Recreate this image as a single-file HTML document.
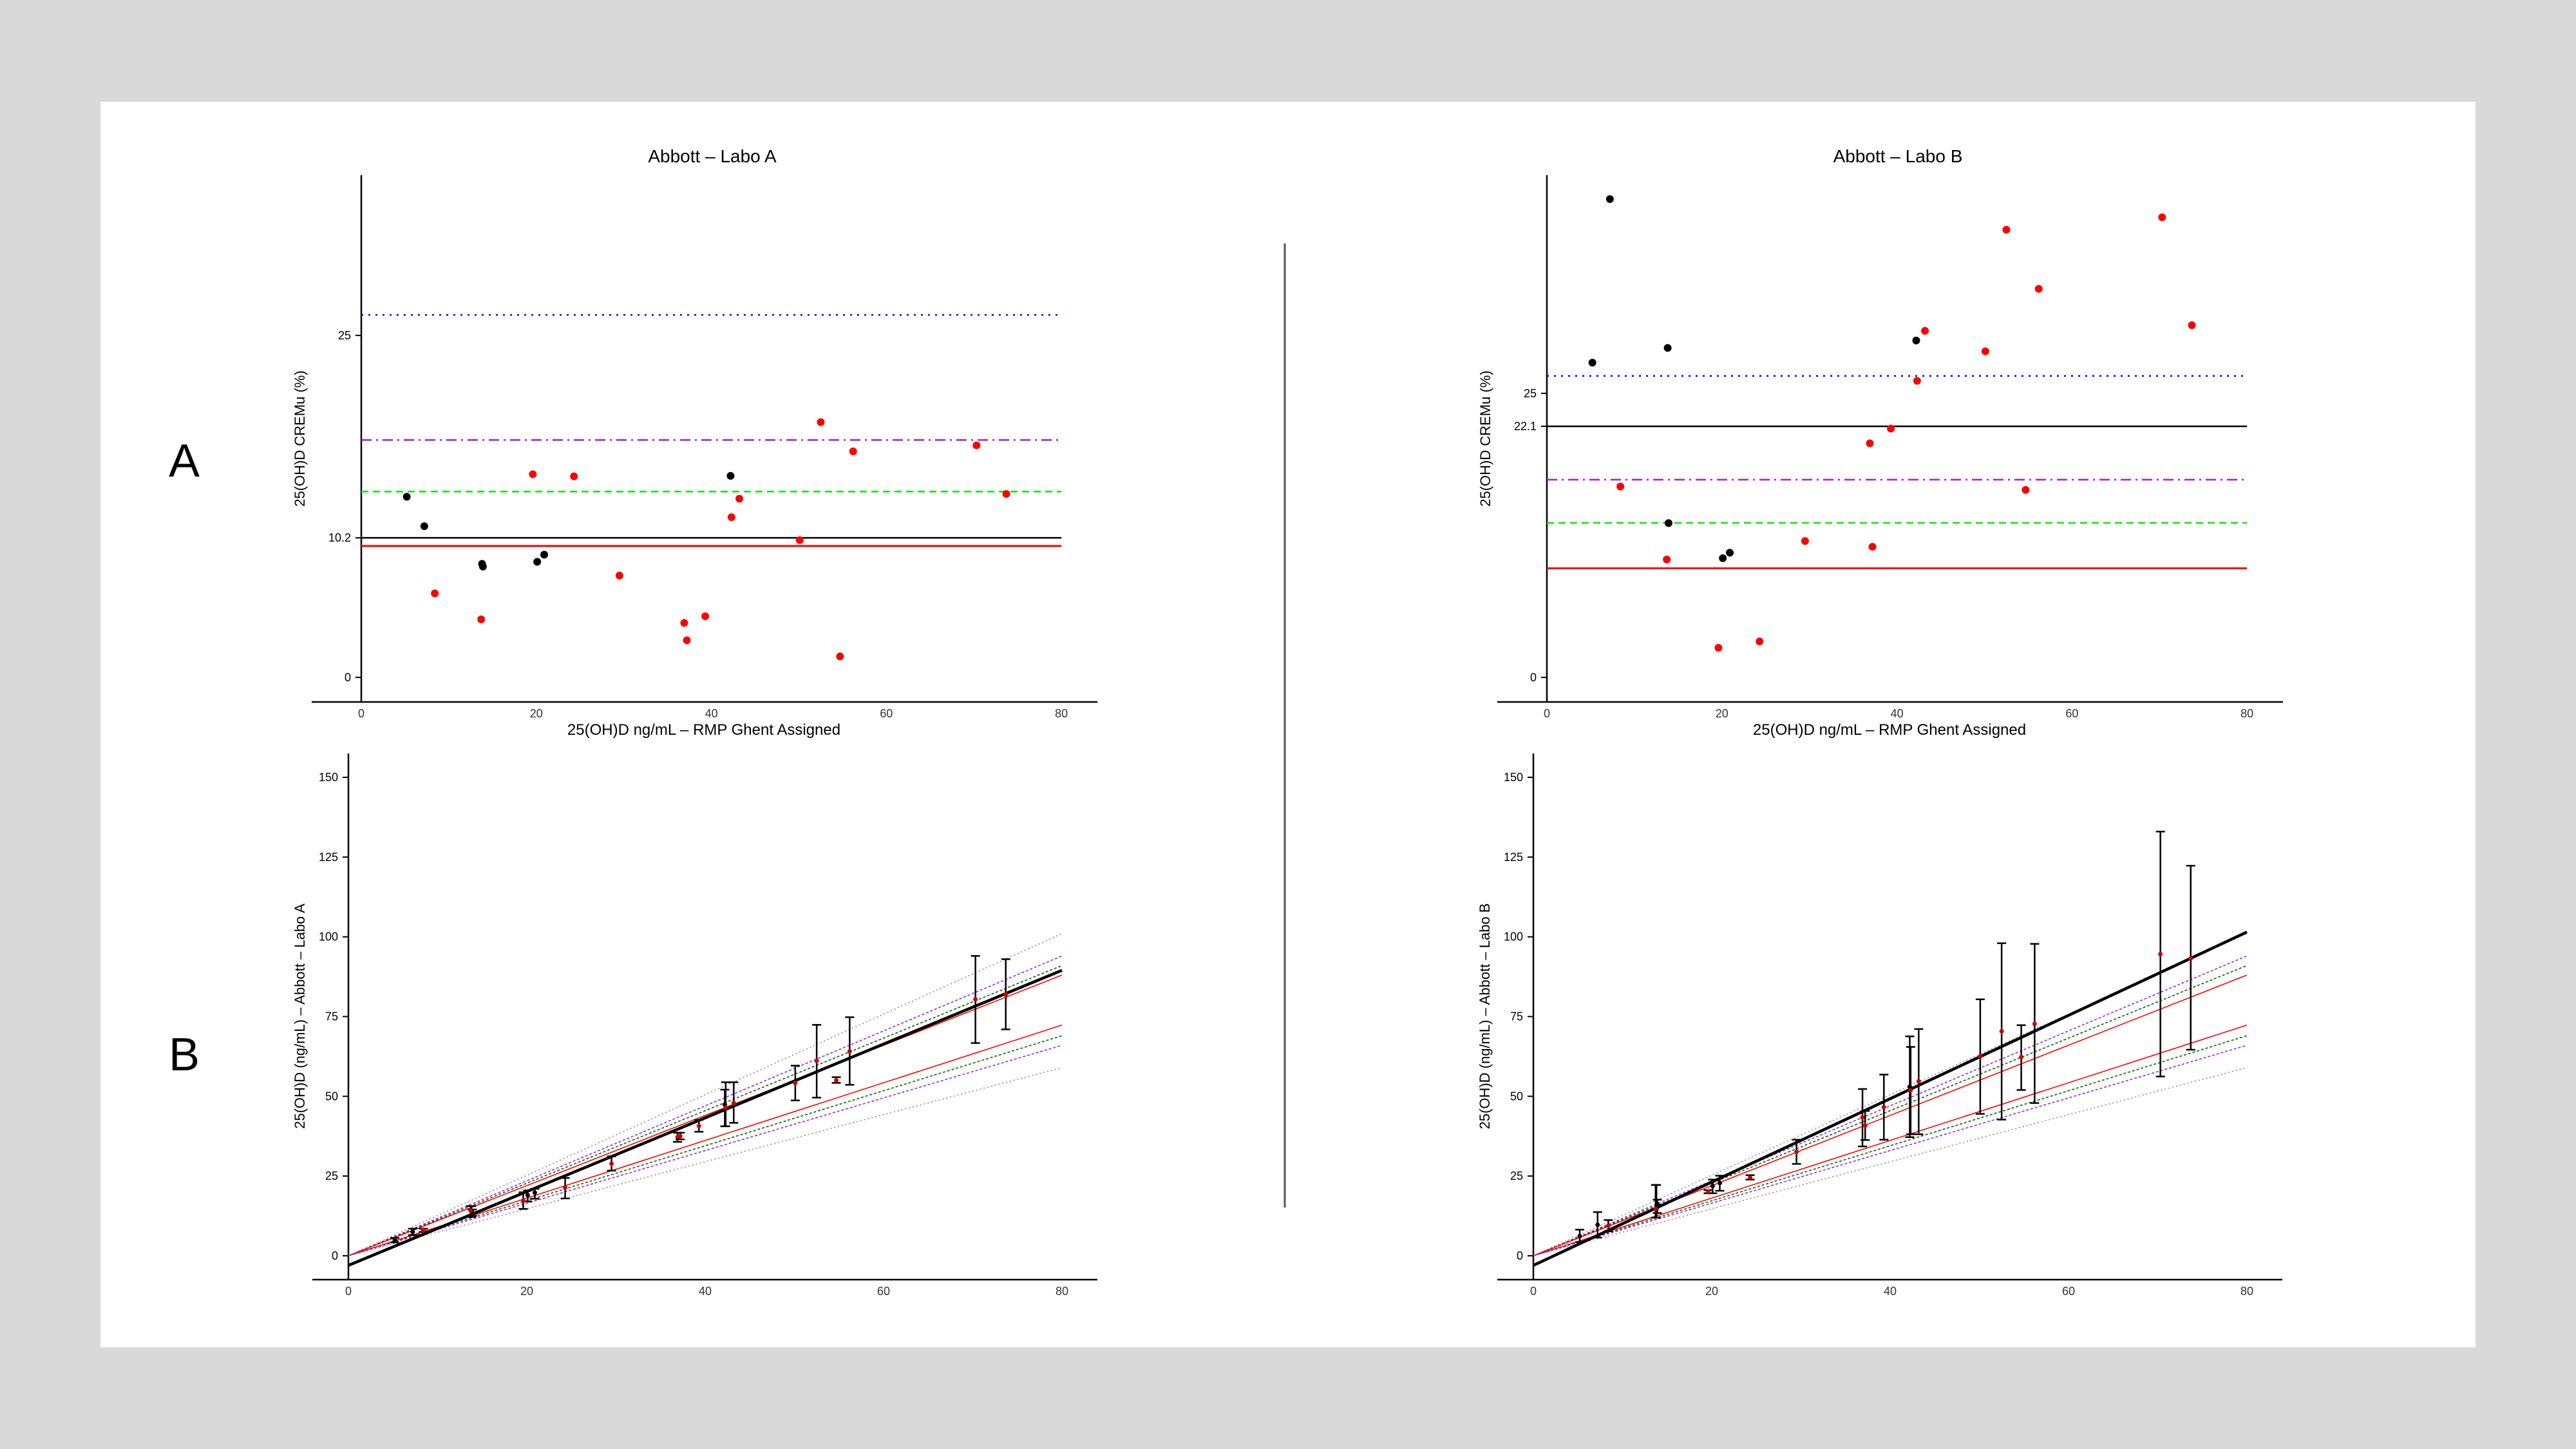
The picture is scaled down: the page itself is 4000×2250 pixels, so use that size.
<!DOCTYPE html>
<html><head><meta charset="utf-8"><style>
html,body{margin:0;padding:0;background:#d9d9d9;}
svg{display:block;}
text{font-family:"Liberation Sans",sans-serif;}
</style></head><body>
<svg id="s" width="4000" height="2250" xmlns="http://www.w3.org/2000/svg">
<rect x="156" y="158" width="3688" height="1934" fill="#fff"/>
<text x="286" y="740" font-size="72" text-anchor="middle">A</text>
<text x="286" y="1662" font-size="72" text-anchor="middle">B</text>
<line x1="1995" y1="378" x2="1995" y2="1875" stroke="#555" stroke-width="3"/>
</svg>
<script>
// ---- data ----
const xA=[5.2,7.2,13.8,13.9,20.1,20.9,42.2,8.4,13.7,19.6,24.3,29.5,36.9,37.2,39.3,42.3,43.2,50.1,52.5,54.7,56.2,70.3,73.7];
const isBlack=[1,1,1,1,1,1,1,0,0,0,0,0,0,0,0,0,0,0,0,0,0,0,0];
const cremuA=[13.2,11.05,8.3,8.1,8.45,8.97,14.73,6.14,4.24,14.85,14.7,7.44,3.98,2.71,4.47,11.71,13.06,10.03,18.66,1.53,16.52,16.96,13.41];
const cremuB=[27.7,42.1,29.0,13.58,10.49,10.97,29.65,16.8,10.38,2.6,3.16,12.0,20.6,11.5,21.9,26.1,30.5,28.7,39.4,16.5,34.2,40.5,31.0];
const hlineA=[26.5,17.35,13.58,10.2,9.6];
const hlineB=[26.53,17.4,13.6,22.1,9.6];
const hColors=['#0000ff','#9a1ff0','#00ee00','#000','#ff0000'];
const hDash=['3,8','16,7,3,7','11,7',null,null];
const yTicksA=[0,10.2,25];
const yTicksB=[0,22.1,25];
const xTicks=[0,20,40,60,80];
const meanA=[4.9,7.5,14.2,13.5,19,19.8,47.4,8,14.2,17.3,21.4,28.9,37.2,37.5,40.7,46.5,47.9,54.2,61.1,55,64.1,80.4,82];
const loA=[4.2,6.5,12.2,12.5,17,17.9,40.6,7.5,12.2,14.7,18,26.7,35.7,36.5,38.9,40.6,41.7,48.7,49.6,54.2,53.6,66.7,71];
const hiA=[5.6,8.5,15.6,14.5,20.5,21,52.1,8.5,15.6,19.9,24.4,31.2,38.6,38.6,42.6,54.4,54.4,59.6,72.4,56,74.8,94,93];
const meanB=[6.2,9.7,14.7,16.2,21.9,22.8,53,9.4,14.7,20.2,24.5,32.6,43.4,40.8,46.6,51.9,54.7,62.5,70.4,62.3,72.7,94.6,93.2];
const loB=[4.3,5.7,12,13.4,19.6,20.4,37.2,7.7,12,19.6,23.9,28.8,34.3,36.3,36.4,38.1,38.1,44.5,42.7,52,47.9,56.2,64.6];
const hiB=[8.2,13.7,22.2,17.6,23.9,25.1,68.8,11.2,22.2,20.6,25.3,36.4,52.3,45.4,56.8,65.5,71.1,80.4,98,72.3,97.8,133,122.3];
const bandSlopes=[1.2625,1.175,1.1375,1.1,0.904,0.8625,0.825,0.7375];
const bandColors=['#888','#9a1ff0','#006400','#ff0000','#ff0000','#006400','#9a1ff0','#888'];
const bandDash=['2,4','4,3','4,3',null,null,'4,3','4,3','2,4'];
const regA=[-3,89.5];
const regB=[-3,101.5];
const yTicksBottom=[0,25,50,75,100,125,150];

const svg=document.getElementById('s');
const NS='http://www.w3.org/2000/svg';
function mk(tag,at,parent){const e=document.createElementNS(NS,tag);for(const k in at)e.setAttribute(k,at[k]);(parent||svg).appendChild(e);return e;}
function txt(s,at,parent){const e=mk('text',at,parent);e.textContent=s;return e;}

function topPanel(ox,title,vals,hl,yt,ys,name){
  const X=v=>ox+v*13.59, Yf=v=>1051.8-v*ys;
  const g=mk('g',{});
  
  
  txt(title,{x:ox+545,y:252,'font-size':28,'text-anchor':'middle'},g);
  mk('line',{x1:ox,y1:272,x2:ox,y2:1090,stroke:'#000','stroke-width':2.5},g);
  mk('line',{x1:ox-77,y1:1090,x2:ox+1143,y2:1090,stroke:'#000','stroke-width':2.5},g);
  xTicks.forEach(t=>{const l=txt(String(t),{x:X(t),y:1114,'font-size':18,'text-anchor':'middle',fill:'#333'},g);});
  yt.forEach(t=>{mk('line',{x1:ox-9,y1:Yf(t),x2:ox,y2:Yf(t),stroke:'#000','stroke-width':2},g);const l=txt(String(t),{x:ox-16,y:Yf(t)+6,'font-size':18,'text-anchor':'end'},g);});
  txt('25(OH)D  ng/mL – RMP Ghent Assigned',{x:ox+532,y:1141,'font-size':24,'text-anchor':'middle'},g);
  const yl=txt('25(OH)D  CREMu (%)',{x:0,y:0,'font-size':22,'text-anchor':'middle',transform:`translate(${ox-88},681) rotate(-90)`},g);
  
  hl.forEach((v,i)=>{const a={x1:ox,y1:Yf(v),x2:X(80),y2:Yf(v),stroke:hColors[i],'stroke-width':i===4?3:2.5};if(hDash[i])a['stroke-dasharray']=hDash[i];const l=mk('line',a,g);});
  xA.forEach((x,i)=>{const c=mk('circle',{cx:X(x),cy:Yf(vals[i]),r:6,fill:isBlack[i]?'#000':'#f00'},g);});
}
function bottomPanel(ox,mean,lo,hi,reg,ylab,name){
  const X=v=>ox+v*13.85, Y=v=>1950-v*4.953;
  const g=mk('g',{});
  
  
  mk('line',{x1:ox,y1:1170,x2:ox,y2:1987,stroke:'#000','stroke-width':2.5},g);
  mk('line',{x1:ox-56,y1:1987,x2:ox+1163,y2:1987,stroke:'#000','stroke-width':2.5},g);
  xTicks.forEach(t=>{const l=txt(String(t),{x:X(t),y:2011,'font-size':18,'text-anchor':'middle',fill:'#333'},g);});
  yTicksBottom.forEach(t=>{mk('line',{x1:ox-9,y1:Y(t),x2:ox,y2:Y(t),stroke:'#000','stroke-width':2},g);const l=txt(String(t),{x:ox-16,y:Y(t)+6,'font-size':18,'text-anchor':'end'},g);});
  const yl=txt(ylab,{x:0,y:0,'font-size':22,'text-anchor':'middle',transform:`translate(${ox-68},1578) rotate(-90)`},g);
  
  bandSlopes.forEach((s,i)=>{const a={x1:X(0),y1:Y(0),x2:X(80),y2:Y(80*s),stroke:bandColors[i],'stroke-width':1.6};if(bandDash[i])a['stroke-dasharray']=bandDash[i];const l=mk('line',a,g);});
  const r=mk('line',{x1:X(0),y1:Y(reg[0]),x2:X(80),y2:Y(reg[1]),stroke:'#000','stroke-width':4.5},g);
  
  xA.forEach((x,i)=>{
    const px=X(x);
    const e=mk('path',{d:`M${px},${Y(lo[i])}V${Y(hi[i])}M${px-7},${Y(lo[i])}h14M${px-7},${Y(hi[i])}h14`,stroke:'#000','stroke-width':2.5,fill:'none'},g);
    
    const c=mk('circle',{cx:px,cy:Y(mean[i]),r:3.5,fill:isBlack[i]?'#000':'#c00'},g);
    
    
  });
}
topPanel(561,'Abbott – Labo A',cremuA,hlineA,yTicksA,21.24,'a');
topPanel(2402,'Abbott – Labo B',cremuB,hlineB,yTicksB,17.64,'b');
bottomPanel(541,meanA,loA,hiA,regA,'25(OH)D (ng/mL) – Abbott – Labo A','a');
bottomPanel(2381,meanB,loB,hiB,regB,'25(OH)D (ng/mL) – Abbott – Labo B','b');
</script>
</body></html>
